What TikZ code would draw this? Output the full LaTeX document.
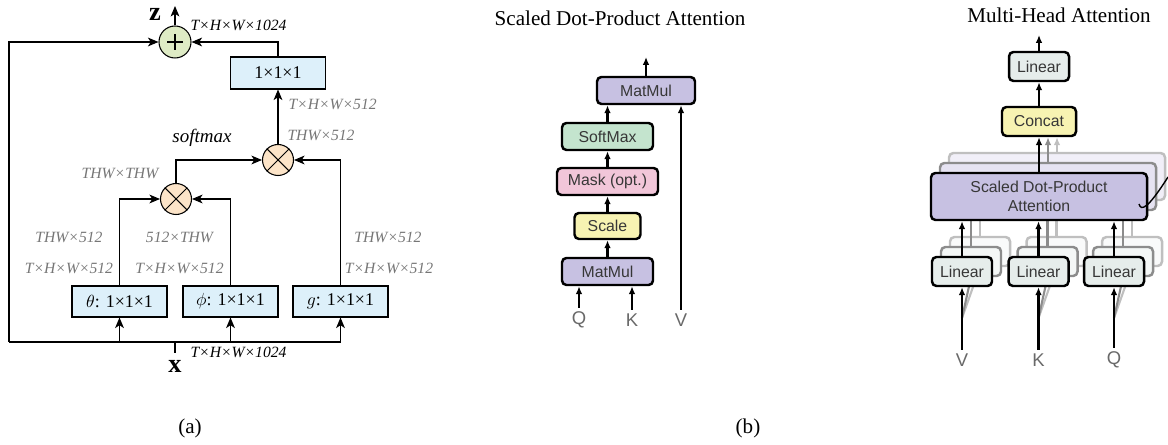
\documentclass[tikz,border=0pt]{standalone}
\usepackage{fontspec}
\setmainfont{Liberation Serif}
\newfontfamily\hvfont{Liberation Sans}
\usetikzlibrary{arrows.meta}

\newlength{\ux}\setlength{\ux}{0.02cm}

\definecolor{convblue}{RGB}{221,240,250}
\definecolor{sumgreen}{RGB}{222,235,197}
\definecolor{mulorange}{RGB}{252,228,200}
\definecolor{lblgray}{RGB}{118,118,118}
\definecolor{mmviolet}{RGB}{199,193,226}
\definecolor{smgreen}{RGB}{196,228,206}
\definecolor{maskpink}{RGB}{242,198,217}
\definecolor{scyellow}{RGB}{247,243,178}
\definecolor{lingray}{RGB}{230,237,235}
\definecolor{txtgray}{RGB}{55,55,55}
\definecolor{qkvgray}{RGB}{105,105,105}

\begin{document}
\begin{tikzpicture}[x={(0.02cm,0)},y={(0,-0.02cm)},>={Stealth[length=6pt,width=5pt,inset=1.6pt]},
                    line width=0.6pt]
  \tikzstyle{opbox}=[draw,fill=convblue,minimum width=95\ux,minimum height=31\ux,inner sep=0pt,
                     font=\fontsize{10.2}{12}\selectfont]
  \tikzstyle{opcirc}=[draw,circle,minimum size=31\ux,inner sep=0pt]
  \tikzstyle{dimlbl}=[text=lblgray,inner sep=0pt,font=\fontsize{8.9}{10}\selectfont\itshape]
  \tikzstyle{blk}=[draw,line width=1.4pt,rounded corners=2.5pt,inner sep=0pt,text=txtgray,
                   font=\hvfont\fontsize{9}{10.8}\selectfont]
  \tikzstyle{arr}=[line width=1.2pt,-{Latex[length=4.5pt,width=3.8pt]}]
  \tikzstyle{qkv}=[text=qkvgray,inner sep=2pt,font=\hvfont\fontsize{10.5}{12}\selectfont]
  \tikzstyle{ttl}=[inner sep=0pt,font=\fontsize{12}{14}\selectfont]

  \useasboundingbox (0,0) rectangle (1168,445);

  % (a) non-local block
  \node[opcirc,fill=sumgreen,minimum size=32\ux] (sum) at (175,42) {};
  \draw (sum.center) +(-8,0) -- +(8,0) (sum.center) +(0,-8) -- +(0,8);
  \node[opbox,minimum height=32\ux] (conv) at (278,73) {1×1×1};
  \node[opcirc,fill=mulorange] (mulb) at (278,160) {};
  \node[opcirc,fill=mulorange] (mula) at (176,199) {};
  \foreach \m in {mula,mulb}
    \draw (\m.north west) -- (\m.south east) (\m.north east) -- (\m.south west);
  \node[opbox] (theta) at (119.5,301.5) {$\theta$: 1×1×1};
  \node[opbox] (phi)   at (230.5,301.5) {$\phi$: 1×1×1};
  \node[opbox] (gfun)  at (340.5,301.5) {$g$: 1×1×1};

  \coordinate (base) at (9,342);
  \coordinate (xs) at (175,353);
  \coordinate (zo) at (175,6);
  \node[inner sep=0pt,font=\bfseries\fontsize{15}{15}\selectfont] (zl) at (155,14) {z};
  \node[inner sep=0pt,font=\bfseries\fontsize{15}{15}\selectfont] (xl) at (175,366) {x};

  \draw[->] (sum) -- (zo);
  \draw[->] (conv.north) |- (sum.east);
  \draw[->] (mulb) -- (conv);
  \draw[->] (mula.north) |- (mulb.west);
  \draw[->] (gfun.north) |- (mulb.east);
  \draw[->] (theta.north) |- (mula.west);
  \draw[->] (phi.north) |- (mula.east);
  \draw[->] (base) |- (sum.west);
  \draw (base) -- (base -| gfun.south);
  \foreach \b in {theta,phi,gfun}
    \draw[->] (base -| \b.south) -- (\b.south);
  \draw (xs) -- (xs |- base);

  \node[dimlbl,text=black,anchor=west] (dtop) at (190,25) {T×H×W×1024};
  \node[dimlbl,anchor=west] (dconv) at (288,104) {T×H×W×512};
  \node[dimlbl,anchor=west] (dmulb) at (287,135) {THW×512};
  \node[inner sep=0pt,font=\fontsize{10.8}{12}\selectfont\itshape] (sftl) at (202,138) {softmax};
  \node[dimlbl] (dmula) at (120,174) {THW×THW};
  \node[dimlbl] (dtha) at (69,237) {THW×512};
  \node[dimlbl] (dthb) at (69,268) {T×H×W×512};
  \node[dimlbl] (dpha) at (179.5,237) {512×THW};
  \node[dimlbl] (dphb) at (179.5,268) {T×H×W×512};
  \node[dimlbl] (dga) at (388,237) {THW×512};
  \node[dimlbl] (dgb) at (389,268) {T×H×W×512};
  \node[dimlbl,text=black,anchor=west] (dbot) at (190,352) {T×H×W×1024};

  % (b) scaled dot-product attention
  \node[ttl] (ttla) at (620,18) {Scaled Dot-Product Attention};
  \node[blk,fill=mmviolet,minimum width=98\ux,minimum height=27\ux] (mmb) at (646,90.5) {MatMul};
  \node[blk,fill=smgreen,minimum width=91\ux,minimum height=27\ux] (smaxb) at (607.5,136.5) {SoftMax};
  \node[blk,fill=maskpink,minimum width=101\ux,minimum height=27\ux] (mask) at (607.5,181.5) {Mask (opt.)};
  \node[blk,fill=scyellow,minimum width=66\ux,minimum height=26\ux] (scl) at (607.5,226) {Scale};
  \node[blk,fill=mmviolet,minimum width=91\ux,minimum height=27\ux] (mma) at (607.5,271.5) {MatMul};
  \node[qkv] (qs) at (579,320) {Q};
  \node[qkv] (ks) at (632,320) {K};
  \node[qkv] (vs) at (681,320) {V};
  \coordinate (sout) at (646,57);

  \draw[arr] (mmb) -- (sout);
  \draw[arr] (smaxb.north) -- (smaxb.north |- mmb.south);
  \draw[arr] (mask) -- (smaxb);
  \draw[arr] (scl) -- (mask);
  \draw[arr] (mma) -- (scl);
  \foreach \s in {qs,ks}
    \draw[arr] (\s.north) -- (\s.north |- mma.south);
  \draw[arr] (vs.north) -- (vs.north |- mmb.south);

  % multi-head attention
  \node[ttl] (ttlb) at (1059,15) {Multi-Head Attention};
  \node[blk,fill=lingray,minimum width=60\ux,minimum height=29\ux] (lino) at (1039,66.5) {Linear};
  \node[blk,fill=scyellow,minimum width=74\ux,minimum height=29\ux] (concat) at (1039,121.5) {Concat};
  \coordinate (mout) at (1039,35);
  \draw[arr] (lino) -- (mout);
  \draw[arr] (concat) -- (lino);

  \coordinate (inv) at (962,318);
  \coordinate (ink) at (1038.5,318);
  \coordinate (inq) at (1114,318);

  \foreach \d/\t in {2/25,1/45} {
    \begin{scope}[shift={(9*\d,-10*\d)}]
      \node[blk,fill=mmviolet!\t!white,draw=black!\t,minimum width=216\ux,minimum height=47\ux]
        (sdpa\d) at (1039,196.5) {};
      \draw[arr,color=black!\t] (sdpa\d.north) -- (sdpa\d.north |- concat.south);
      \foreach \n/\x in {v/962,k/1038.5,q/1114} {
        \node[blk,fill=lingray!\t!white,draw=black!\t,minimum width=60\ux,minimum height=29\ux]
          (lin\n\d) at (\x,271.5) {};
        \draw[arr,color=black!\t] (lin\n\d.north) -- (lin\n\d.north |- sdpa\d.south);
        \draw[line width=1.2pt,color=black!\t] (in\n) -- (lin\n\d.south);
      }
    \end{scope}
  }

  \node[blk,fill=mmviolet,minimum width=216\ux,minimum height=47\ux,align=center] (sdpa) at (1039,196.5)
    {Scaled Dot-Product\\Attention};
  \draw[arr] (sdpa.north) -- (sdpa.north |- concat.south);
  \foreach \n/\x/\l in {v/962/V,k/1038.5/K,q/1114/Q} {
    \node[blk,fill=lingray,minimum width=60\ux,minimum height=29\ux] (lin\n) at (\x,271.5) {Linear};
    \node[qkv] (lbl\n) at (\x,360) {\l};
    \draw[arr] (lin\n.north) -- (lin\n.north |- sdpa.south);
    \draw[arr] (lbl\n.north) -- (lin\n.south);
  }
  \coordinate (hka) at (1139,204);
  \coordinate (hkb) at (1168,177);
  \draw[line width=0.8pt] (hka) .. controls (1141,211) and (1147,210) .. (hkb);

  \node[ttl] (capa) at (190,428) {(a)};
  \node[ttl] (capb) at (748,428) {(b)};
\end{tikzpicture}
\end{document}
